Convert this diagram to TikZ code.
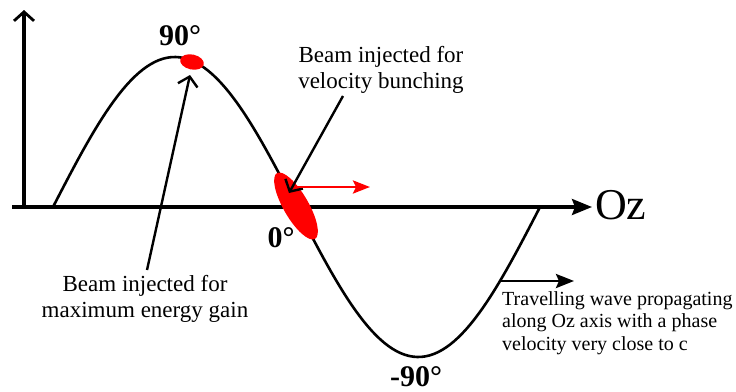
\documentclass[tikz,border=0pt]{standalone}
\usepackage{fontspec}
\setmainfont{Liberation Serif}
\usepackage{tikz}
\usetikzlibrary{shapes.geometric, arrows.meta, positioning}

\begin{document}
\begin{tikzpicture}[
    x=1pt, y=-1pt,
    axis/.style={line width=3.2pt},
    wave/.style={line width=2.6pt},
    openarr/.style={-{Straight Barb[length=9pt, width=20pt, line width=2.4pt]}, line width=2.4pt},
    fillarr/.style={-{Stealth[length=20pt, width=16pt, inset=3pt]}},
    bunch/.style={ellipse, fill=red, inner sep=0pt},
    phase/.style={font=\fontsize{30}{30}\selectfont\bfseries, inner sep=0pt, anchor=base},
    note/.style={font=\fontsize{23}{26}\selectfont, inner sep=0pt, align=center},
]
\useasboundingbox (0,0) rectangle (736,391);

% axes
\coordinate (origin) at (24,207);
\coordinate (ytop) at (24,10);
\coordinate (xleft) at (12,207);
\coordinate (xright) at (592,207);
\draw[axis, -{Straight Barb[length=9pt, width=20pt, line width=2.8pt]}] (origin) -- (ytop);
\draw[axis, fillarr] (xleft) -- (xright);
\node[font=\fontsize{44}{44}\selectfont, inner sep=0pt, anchor=base west] (oz) at (595,219) {Oz};

% travelling wave (one period, 487 px long)
\draw[wave] plot[domain=0:487, samples=120] (53+\x, {207-150*sin(0.739220*\x)});

% bunches
\node[bunch, minimum width=24pt, minimum height=15pt, rotate=-12] (crest) at (192,62) {};
\node[bunch, minimum width=76pt, minimum height=25pt, rotate=-60] (zero) at (296,206) {};

% phase labels
\node[phase] (p90) at (180,45) {90°};
\node[phase] (p0) at (281,247) {0°};
\node[phase] (m90) at (416,386) {-90°};

% notes (base = last line)
\node[note, anchor=base] (velnote) at (381,88) {Beam injected for\\velocity bunching};
\node[note, anchor=base] (gainnote) at (145,317) {Beam injected for\\maximum energy gain};
\node[note, font=\fontsize{20}{22.5}\selectfont, align=left, anchor=north west] (wavenote) at (502,291)
    {Travelling wave propagating\\along Oz axis with a phase\\velocity very close to c};

\coordinate (veltail) at (343,96);
\coordinate (velhead) at (289,193);
\coordinate (gaintail) at (147,270);
\coordinate (gainhead) at (190,75);
\coordinate (wavetail) at (500,281);
\coordinate (wavehead) at (574,281);
\coordinate (redtail) at (296,187);
\coordinate (redhead) at (370,187);

\draw[openarr] (veltail) -- (velhead);
\draw[openarr] (gaintail) -- (gainhead);
\draw[line width=2.8pt, -{Stealth[length=18pt, width=14pt, inset=3pt]}] (wavetail) -- (wavehead);
\draw[red, line width=2.8pt, -{Stealth[length=17pt, width=13pt, inset=3pt]}] (redtail) -- (redhead);

\end{tikzpicture}
\end{document}
